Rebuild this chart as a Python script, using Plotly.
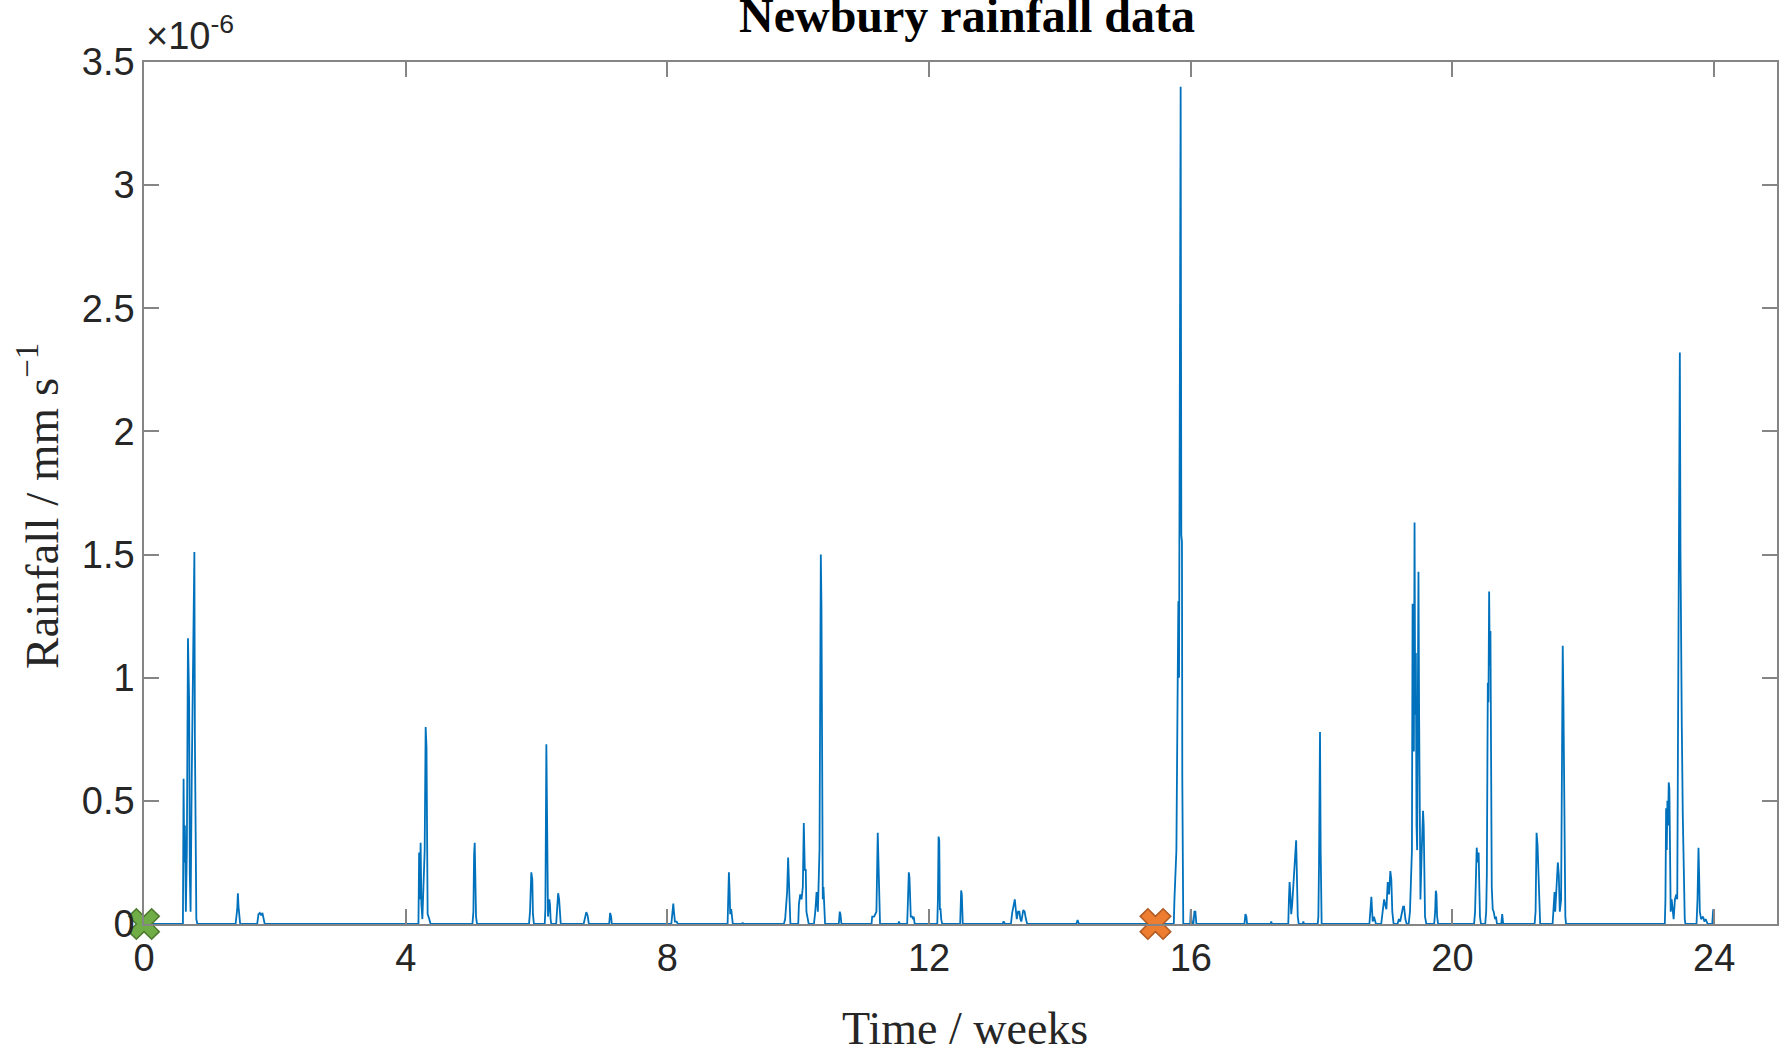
import plotly.graph_objects as go

# ---- data (rainfall in units of 1e-6 mm/s, time in weeks) ----
time_weeks = [
    0.0,
    0.595, 0.600, 0.605, 0.615, 0.625, 0.640, 0.655, 0.672, 0.690, 0.700, 0.712, 0.730, 0.753, 0.770, 0.778, 0.790, 0.800, 0.815,
    1.400, 1.425, 1.435, 1.445, 1.455, 1.470,
    1.730, 1.750, 1.770, 1.790, 1.810, 1.830, 1.845,
    4.195, 4.205, 4.215, 4.228, 4.240, 4.255, 4.290, 4.305, 4.318, 4.325, 4.335, 4.360, 4.380,
    5.020, 5.035, 5.045, 5.055, 5.065, 5.075, 5.090,
    5.885, 5.900, 5.910, 5.920, 5.935, 5.945, 5.960,
    6.125, 6.135, 6.140, 6.150, 6.158, 6.165, 6.175, 6.195, 6.205, 6.215, 6.225,
    6.300, 6.315, 6.330, 6.345, 6.360, 6.370,
    6.720, 6.740, 6.760, 6.780, 6.800,
    7.110, 7.125, 7.140, 7.150,
    8.060, 8.075, 8.090, 8.100, 8.115, 8.140, 8.160,
    8.920, 8.930, 8.940, 8.950, 8.960, 8.975, 8.985, 9.000,
    9.140, 9.150, 9.160,
    9.780, 9.800, 9.830, 9.845, 9.855, 9.870, 9.880,
    10.000, 10.010, 10.030, 10.050, 10.070, 10.085, 10.100, 10.115, 10.125, 10.140, 10.160,
    10.240, 10.260, 10.280, 10.300, 10.325, 10.335, 10.345, 10.355, 10.365, 10.375, 10.385, 10.400, 10.410,
    10.620, 10.635, 10.645, 10.660,
    11.120, 11.130, 11.160, 11.195, 11.215, 11.225, 11.232, 11.240, 11.250,
    11.530, 11.540, 11.550,
    11.665, 11.675, 11.690, 11.700, 11.710, 11.720, 11.740, 11.755, 11.765, 11.780,
    12.125, 12.135, 12.145, 12.155, 12.165, 12.175, 12.185, 12.200,
    12.475, 12.483, 12.490, 12.500, 12.508, 12.515,
    13.120, 13.140, 13.160,
    13.250, 13.270, 13.290, 13.310, 13.325, 13.340, 13.360, 13.380, 13.395, 13.410, 13.440, 13.460, 13.480, 13.500,
    14.250, 14.270, 14.290,
    15.740, 15.750, 15.760, 15.770, 15.780, 15.800, 15.810, 15.820, 15.835, 15.845, 15.855, 15.865, 15.870, 15.875, 15.885,
    15.990, 16.000, 16.010, 16.020, 16.040, 16.055, 16.070, 16.085,
    16.820, 16.835, 16.850, 16.860,
    17.220, 17.230, 17.240,
    17.490, 17.500, 17.510, 17.520, 17.535, 17.550, 17.585, 17.610, 17.620, 17.635, 17.650,
    17.710, 17.720, 17.730,
    17.940, 17.950, 17.960, 17.965, 17.975, 17.985, 17.990, 18.000,
    18.730, 18.745, 18.760, 18.770, 18.780, 18.800, 18.820, 18.830,
    18.910, 18.930, 18.955, 18.970, 18.990, 19.010, 19.030, 19.050, 19.065, 19.080, 19.100,
    19.160, 19.180, 19.200, 19.230, 19.245, 19.260, 19.270, 19.280, 19.300,
    19.330, 19.350, 19.370, 19.380, 19.390, 19.400, 19.410, 19.420, 19.430, 19.440, 19.450, 19.460, 19.470, 19.480,
    19.490, 19.500, 19.510, 19.530, 19.550, 19.560, 19.570, 19.580, 19.600,
    19.720, 19.735, 19.745, 19.755, 19.765, 19.780,
    20.330, 20.345, 20.355, 20.370, 20.385, 20.400, 20.410, 20.420, 20.435,
    20.500, 20.515, 20.525, 20.540, 20.550, 20.560, 20.570, 20.580, 20.590, 20.600, 20.615, 20.630, 20.650, 20.665, 20.680,
    20.745, 20.760, 20.775,
    21.255, 21.270, 21.285, 21.300, 21.315, 21.330, 21.340,
    21.530, 21.545, 21.560, 21.570, 21.580, 21.595, 21.610, 21.625, 21.640, 21.660, 21.675, 21.685, 21.695, 21.705, 21.715, 21.725, 21.735,
    23.245, 23.255, 23.265, 23.275, 23.285, 23.295, 23.305, 23.315, 23.325, 23.335, 23.350, 23.365, 23.380, 23.400, 23.420,
    23.435, 23.450, 23.465, 23.475, 23.485, 23.495, 23.505, 23.520, 23.535, 23.550, 23.560,
    23.730, 23.745, 23.760, 23.770, 23.780, 23.800, 23.830, 23.850, 23.870, 23.885, 23.900,
    23.970, 23.985, 23.995, 24.000,
]

rainfall = [
    0,
    0, 0.30, 0.59, 0.25, 0.40, 0.05, 0.30, 1.16, 0.90, 0.20, 0.05, 0.60, 1.24, 1.51, 0.75, 0.30, 0.02, 0,
    0, 0.06, 0.125, 0.07, 0.04, 0,
    0, 0.04, 0.045, 0.035, 0.045, 0.02, 0,
    0, 0.29, 0.10, 0.33, 0.08, 0.02, 0.30, 0.80, 0.72, 0.20, 0.04, 0.02, 0,
    0, 0.05, 0.28, 0.33, 0.18, 0.03, 0,
    0, 0.05, 0.15, 0.21, 0.18, 0.04, 0,
    0, 0.06, 0.44, 0.73, 0.51, 0.15, 0.03, 0.10, 0.08, 0.02, 0,
    0, 0.08, 0.125, 0.10, 0.02, 0,
    0, 0.03, 0.048, 0.035, 0,
    0, 0.045, 0.03, 0,
    0, 0.06, 0.083, 0.05, 0.01, 0.01, 0,
    0, 0.10, 0.21, 0.14, 0.04, 0.06, 0.03, 0,
    0, 0.005, 0,
    0, 0.02, 0.13, 0.27, 0.20, 0.04, 0,
    0, 0.08, 0.12, 0.10, 0.15, 0.41, 0.22, 0.22, 0.05, 0.03, 0,
    0, 0.05, 0.13, 0.05, 0.30, 0.77, 1.50, 1.29, 0.27, 0.10, 0.15, 0.02, 0,
    0, 0.05, 0.04, 0,
    0, 0.03, 0.03, 0.05, 0.37, 0.25, 0.20, 0.03, 0,
    0, 0.01, 0,
    0, 0.08, 0.21, 0.19, 0.05, 0.03, 0.03, 0.02, 0.03, 0,
    0, 0.10, 0.355, 0.34, 0.06, 0.06, 0.02, 0,
    0, 0.05, 0.136, 0.12, 0.02, 0,
    0, 0.01, 0,
    0, 0.045, 0.07, 0.10, 0.06, 0.02, 0.05, 0.05, 0.02, 0.01, 0.057, 0.05, 0.02, 0,
    0, 0.016, 0,
    0, 0.10, 0.19, 0.22, 0.30, 0.99, 1.31, 1.00, 2.87, 3.40, 1.58, 1.55, 0.60, 0.05, 0,
    0, 0.06, 0.02, 0, 0, 0.05, 0.05, 0,
    0, 0.04, 0.03, 0,
    0, 0.01, 0,
    0, 0.10, 0.17, 0.13, 0.04, 0.08, 0.25, 0.34, 0.22, 0.03, 0,
    0, 0.01, 0,
    0, 0.03, 0.25, 0.76, 0.78, 0.30, 0.03, 0,
    0, 0.05, 0.11, 0.06, 0.01, 0.03, 0.01, 0,
    0, 0.05, 0.10, 0.08, 0.06, 0.17, 0.12, 0.215, 0.18, 0.05, 0,
    0, 0.02, 0.01, 0.05, 0.07, 0.07, 0.03, 0.02, 0,
    0, 0.05, 0.20, 0.30, 1.30, 1.20, 0.70, 1.63, 0.85, 1.10, 0.40, 0.30, 0.90, 1.43,
    0.84, 0.30, 0.10, 0.30, 0.46, 0.40, 0.10, 0.03, 0,
    0, 0.05, 0.135, 0.12, 0.03, 0,
    0, 0.05, 0.20, 0.31, 0.25, 0.29, 0.15, 0.03, 0,
    0, 0.05, 0.20, 0.98, 0.90, 1.35, 1.05, 1.19, 0.73, 0.15, 0.06, 0.05, 0.02, 0.03, 0,
    0, 0.04, 0,
    0, 0.05, 0.37, 0.32, 0.20, 0.03, 0,
    0, 0.06, 0.13, 0.05, 0.10, 0.15, 0.25, 0.20, 0.05, 0.10, 0.74, 1.13, 0.92, 0.60, 0.10, 0.03, 0,
    0, 0.10, 0.47, 0.30, 0.50, 0.40, 0.575, 0.55, 0.20, 0.05, 0.10, 0.05, 0.02, 0.10, 0.12,
    0.10, 0.79, 2.00, 2.32, 1.50, 1.00, 0.80, 0.44, 0.10, 0.02, 0,
    0, 0.10, 0.31, 0.20, 0.05, 0.02, 0.03, 0.01, 0.02, 0.01, 0,
    0, 0.06, 0.04, 0,
]

start_marker = [0.0, 0.0]     # (time, rainfall)
end_marker = [15.46, 0.0]

x_ticks = [0, 4, 8, 12, 16, 20, 24]
y_ticks = [0, 0.5, 1, 1.5, 2, 2.5, 3, 3.5]
y_tick_text = ["0", "0.5", "1", "1.5", "2", "2.5", "3", "3.5"]

AXIS_GREY = "#858585"
TEXT = "#262626"

fig = go.Figure()
fig.add_trace(go.Scatter(
    x=time_weeks, y=rainfall, mode="lines",
    line=dict(color="#0072BD", width=1.8),
    cliponaxis=False, hoverinfo="skip",
))
fig.add_trace(go.Scatter(
    x=[start_marker[0]], y=[start_marker[1]], mode="markers",
    marker=dict(symbol="x", size=27, color="#70AD47", line=dict(color="#4E7A2E", width=1.5)),
    cliponaxis=False, hoverinfo="skip",
))
fig.add_trace(go.Scatter(
    x=[end_marker[0]], y=[end_marker[1]], mode="markers",
    marker=dict(symbol="x", size=27, color="#ED7D31", line=dict(color="#B05A22", width=1.5)),
    cliponaxis=False, hoverinfo="skip",
))

fig.update_layout(
    width=1779, height=1056,
    margin=dict(l=144, r=0, t=62, b=132),
    plot_bgcolor="white", paper_bgcolor="white",
    showlegend=False,
)

common = dict(
    ticks="inside", ticklen=15, tickwidth=1.5, tickcolor=AXIS_GREY,
    showline=True, linecolor=AXIS_GREY, linewidth=1.5, mirror="ticks",
    showgrid=False, zeroline=False,
    tickfont=dict(family="Liberation Sans, Arial, sans-serif", size=38, color=TEXT),
)
fig.update_xaxes(range=[0, 24.96], tickvals=x_ticks, ticktext=[str(v) for v in x_ticks], **common)
fig.update_yaxes(range=[0, 3.5], tickvals=y_ticks, ticktext=y_tick_text, **common)

serif = "Liberation Serif, Times New Roman, serif"
fig.add_annotation(
    text="<b>Newbury rainfall data</b>", xref="paper", yref="paper",
    x=0.504, y=1, xanchor="center", yanchor="bottom", yshift=18, showarrow=False,
    font=dict(family=serif, size=48, color="black"),
)
fig.add_annotation(
    text="×10<sup>-6</sup>", xref="paper", yref="paper",
    x=0, y=1, xanchor="left", yanchor="bottom", yshift=3, showarrow=False,
    font=dict(family="Liberation Sans, Arial, sans-serif", size=38, color=TEXT),
)
fig.add_annotation(
    text="Time / weeks", xref="paper", yref="paper",
    x=0.503, y=0, xanchor="center", yanchor="middle", yshift=-104, showarrow=False,
    font=dict(family=serif, size=46, color=TEXT),
)
fig.add_annotation(
    text="Rainfall / mm s<sup>−1</sup>", xref="paper", yref="paper",
    x=0, y=0.485, xanchor="center", yanchor="middle", xshift=-105, textangle=-90,
    showarrow=False,
    font=dict(family=serif, size=47, color=TEXT),
)

fig.write_html(
    "out.html",
    config={"displayModeBar": False},
    post_script="document.body.style.margin='0';document.body.style.overflow='hidden';",
)
